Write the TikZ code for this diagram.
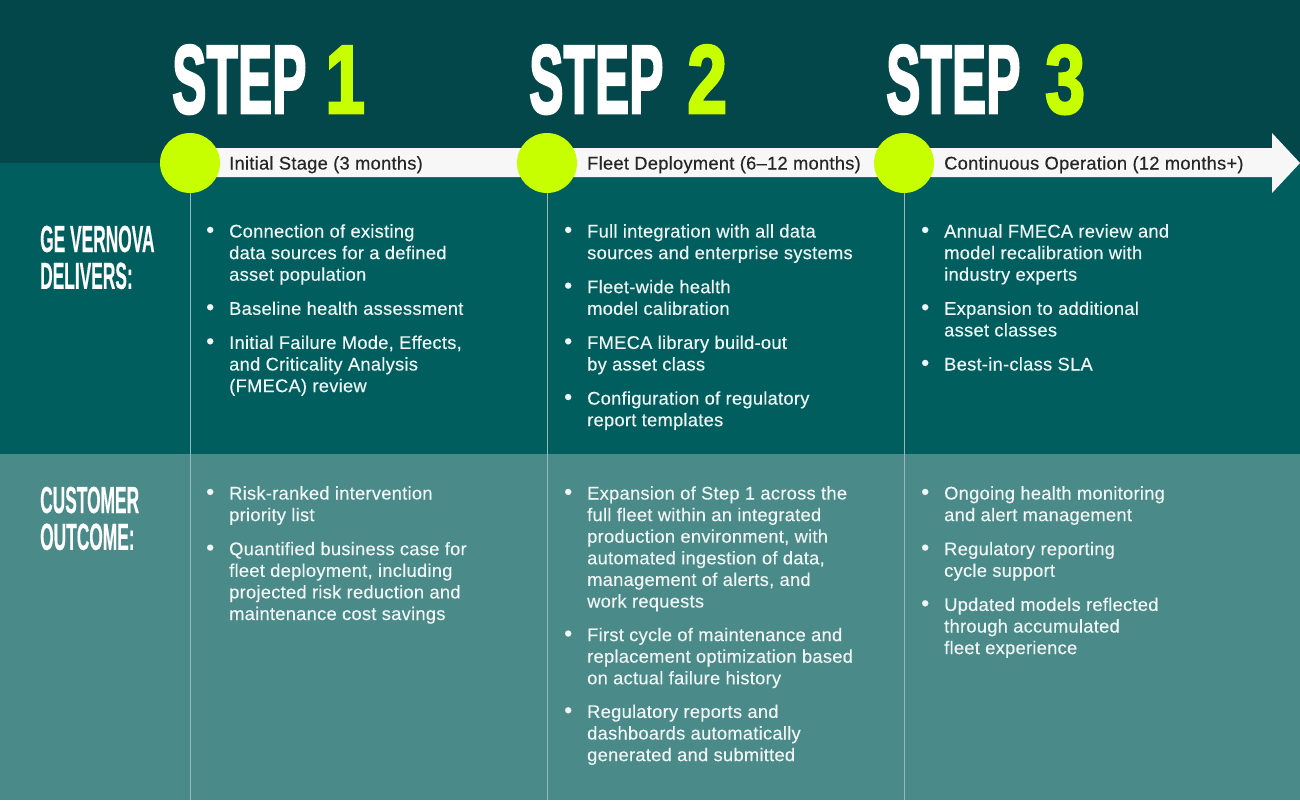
\documentclass[tikz,border=0pt]{standalone}
\usepackage{fontspec}
\usepackage{graphicx}
\setmainfont{Liberation Sans}
\newfontfamily\bodyfont{Liberation Sans}[LetterSpace=1.5,FakeBold=0.3]
\newfontfamily\headfont{Liberation Sans Bold}[FakeBold=3]
\newfontfamily\titlefont{Liberation Sans Bold}[FakeBold=0.6]
\definecolor{topbg}{HTML}{03474A}
\definecolor{midbg}{HTML}{005E5E}
\definecolor{botbg}{HTML}{4A8A88}
\definecolor{limeacc}{HTML}{C8FF00}
\definecolor{arrowfill}{HTML}{F7F7F7}
\definecolor{labeltxt}{HTML}{262626}
\definecolor{bodytxt}{HTML}{F0F5F5}
\definecolor{vlinecol}{HTML}{9DB8B8}
\newcommand\bul{\scalebox{1.25}{\textbullet}}
\newcommand\blist[1]{\begin{tabular}[t]{@{}p{23pt}@{}l@{}}#1\end{tabular}}
\newcommand\stepword{\scalebox{0.53}[1]{\headfont\fontsize{97}{99}\selectfont STEP}}
\newcommand\stepdigit[1]{\scalebox{0.74}[1]{\headfont\fontsize{97}{99}\selectfont #1}}
\newcommand\rowtitle[2]{\scalebox{0.46}[1]{\titlefont\fontsize{37.7}{35}\selectfont\begin{tabular}[t]{@{}l@{}}#1\\#2\end{tabular}}}
\begin{document}
\begin{tikzpicture}[x=1pt,y=-1pt,
  stepdot/.style={circle,fill=limeacc,minimum size=60pt,inner sep=0pt},
  vline/.style={draw=vlinecol,line width=1pt},
  stagelbl/.style={anchor=base west,inner sep=0pt,text=labeltxt,font=\bodyfont\fontsize{18.3}{22}\selectfont},
  cell/.style={anchor=base west,inner sep=0pt,text=bodytxt,font=\bodyfont\fontsize{18.3}{21.6}\selectfont},
  stepw/.style={anchor=base west,inner sep=0pt,text=white},
  stepn/.style={anchor=base west,inner sep=0pt,text=limeacc},
  rowhead/.style={anchor=base west,inner sep=0pt,text=white}
]
\useasboundingbox (0,0) rectangle (1300,800);
\fill[topbg] (0,0) rectangle (1300,163);
\fill[midbg] (0,163) rectangle (1300,454);
\fill[botbg] (0,454) rectangle (1300,800);
% arrow band
\fill[arrowfill] (190,148) -- (1272,148) -- (1272,133) -- (1300,163) -- (1272,193) -- (1272,177) -- (190,177) -- cycle;
% circles
\node[stepdot] (c1) at (190,163) {};
\node[stepdot] (c2) at (547,163) {};
\node[stepdot] (c3) at (904,163) {};
\coordinate (e1) at (190,800);
\coordinate (e2) at (547,800);
\coordinate (e3) at (904,800);
\draw[vline] (c1.south) -- (e1);
\draw[vline] (c2.south) -- (e2);
\draw[vline] (c3.south) -- (e3);
% step headings
\node[stepw] (s1) at (172,113) {\stepword};
\node[stepn] (n1) at (325,113) {\stepdigit{1}};
\node[stepw] (s2) at (529,113) {\stepword};
\node[stepn] (n2) at (687,113) {\stepdigit{2}};
\node[stepw] (s3) at (886,113) {\stepword};
\node[stepn] (n3) at (1045,113) {\stepdigit{3}};
% stage labels
\node[stagelbl] (l1) at (229,169.5) {Initial Stage (3 months)};
\node[stagelbl] (l2) at (587,169.5) {Fleet Deployment (6–12 months)};
\node[stagelbl] (l3) at (944,169.5) {Continuous Operation (12 months+)};
% row titles
\node[rowhead] (h1) at (40,252) {\rowtitle{GE VERNOVA}{DELIVERS:}};
\node[rowhead] (h2) at (40,513) {\rowtitle{CUSTOMER}{OUTCOME:}};
% top cells
\node[cell] (t1) at (206,237.5) {\blist{
\bul & Connection of existing\\
 & data sources for a defined\\
 & asset population\\[12.5pt]
\bul & Baseline health assessment\\[12.5pt]
\bul & Initial Failure Mode, Effects,\\
 & and Criticality Analysis\\
 & (FMECA) review}};
\node[cell] (t2) at (564,237.5) {\blist{
\bul & Full integration with all data\\
 & sources and enterprise systems\\[12.5pt]
\bul & Fleet-wide health\\
 & model calibration\\[12.5pt]
\bul & FMECA library build-out\\
 & by asset class\\[12.5pt]
\bul & Configuration of regulatory\\
 & report templates}};
\node[cell] (t3) at (921,237.5) {\blist{
\bul & Annual FMECA review and\\
 & model recalibration with\\
 & industry experts\\[12.5pt]
\bul & Expansion to additional\\
 & asset classes\\[12.5pt]
\bul & Best-in-class SLA}};
% bottom cells
\node[cell] (b1) at (206,499.5) {\blist{
\bul & Risk-ranked intervention\\
 & priority list\\[12.5pt]
\bul & Quantified business case for\\
 & fleet deployment, including\\
 & projected risk reduction and\\
 & maintenance cost savings}};
\node[cell] (b2) at (564,499.5) {\blist{
\bul & Expansion of Step 1 across the\\
 & full fleet within an integrated\\
 & production environment, with\\
 & automated ingestion of data,\\
 & management of alerts, and\\
 & work requests\\[12pt]
\bul & First cycle of maintenance and\\
 & replacement optimization based\\
 & on actual failure history\\[12pt]
\bul & Regulatory reports and\\
 & dashboards automatically\\
 & generated and submitted}};
\node[cell] (b3) at (921,499.5) {\blist{
\bul & Ongoing health monitoring\\
 & and alert management\\[12.5pt]
\bul & Regulatory reporting\\
 & cycle support\\[12.5pt]
\bul & Updated models reflected\\
 & through accumulated\\
 & fleet experience}};
\end{tikzpicture}
\end{document}
